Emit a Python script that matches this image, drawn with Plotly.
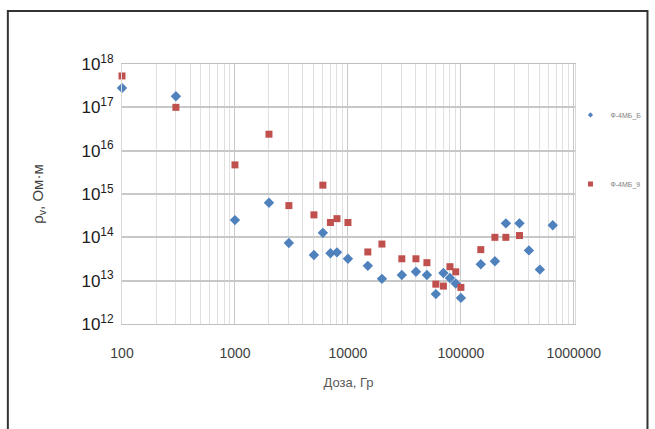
import plotly.graph_objects as go

# Data
dose_b = [100, 300, 1000, 2000, 3000, 5000, 6000, 7000, 8000, 10000, 15000, 20000,
          30000, 40000, 50000, 60000, 70000, 80000, 90000, 100000, 150000, 200000,
          250000, 330000, 400000, 500000, 650000]
rho_b = [2.8e17, 1.8e17, 2.5e14, 6.3e14, 7.4e13, 3.9e13, 1.27e14, 4.3e13, 4.5e13, 3.2e13,
         2.2e13, 1.1e13, 1.35e13, 1.6e13, 1.35e13, 4.9e12, 1.5e13, 1.15e13, 8.6e12, 4.0e12,
         2.4e13, 2.8e13, 2.1e14, 2.1e14, 5.0e13, 1.8e13, 1.9e14]

dose_r = [100, 300, 1000, 2000, 3000, 5000, 6000, 7000, 8000, 10000, 15000, 20000,
          30000, 40000, 50000, 60000, 70000, 80000, 90000, 100000, 150000, 200000,
          250000, 330000]
rho_r = [5.3e17, 1.0e17, 4.7e15, 2.4e16, 5.4e14, 3.3e14, 1.6e15, 2.2e14, 2.7e14, 2.2e14,
         4.6e13, 7.0e13, 3.2e13, 3.2e13, 2.6e13, 8.3e12, 7.5e12, 2.1e13, 1.6e13, 7.0e12,
         5.2e13, 1.0e14, 1.0e14, 1.1e14]

names = ["Ф-4МБ_Б", "Ф-4МБ_9"]
x_ticks = [100, 1000, 10000, 100000, 1000000]
x_ticktext = ["100", "1000", "10000", "100000", "1000000"]
y_exps = [12, 13, 14, 15, 16, 17, 18]

x_minor = [m * 10 ** e for e in range(2, 6) for m in range(2, 10)]
y_ticks = [10.0 ** e for e in y_exps]
y_ticktext = ["10<sup>%d</sup>" % e for e in y_exps]

colors = ["#4f81bd", "#c0504d"]
symbols = ["diamond", "square"]

fig = go.Figure()
fig.add_trace(go.Scatter(
    x=dose_b, y=rho_b, mode="markers", showlegend=False, cliponaxis=False,
    marker=dict(symbol=symbols[0], size=8, color=colors[0]),
))
fig.add_trace(go.Scatter(
    x=dose_r, y=rho_r, mode="markers", showlegend=False, cliponaxis=False,
    marker=dict(symbol=symbols[1], size=7, color=colors[1]),
))
# legend entries (small symbols as in the reference)
for i in range(2):
    fig.add_trace(go.Scatter(
        x=[None], y=[None], mode="markers", name=names[i], legendgroup=str(i),
        marker=dict(symbol=symbols[i], size=4 if i == 0 else 5, color=colors[i]),
    ))

fig.update_layout(
    width=655, height=429,
    margin=dict(l=122, r=80, t=64, b=105, autoexpand=False),
    paper_bgcolor="white", plot_bgcolor="white",
    font=dict(family="Liberation Sans, Arial, sans-serif", color="#404040"),
    legend=dict(x=0.99, y=0.86, xanchor="left", yanchor="top",
                font=dict(size=7, color="#808080"), tracegroupgap=50,
                itemsizing="trace", itemwidth=30, bgcolor="rgba(0,0,0,0)"),
    showlegend=True,
)
fig.update_xaxes(
    type="log", range=[2, 6.01],
    tickvals=x_ticks, ticktext=x_ticktext,
    tickfont=dict(size=14, color="#404040"),
    ticks="outside", ticklen=16, tickcolor="rgba(0,0,0,0)",
    showgrid=True, gridcolor="#c8c8c8", gridwidth=1,
    minor=dict(tickvals=x_minor, showgrid=True, gridcolor="#e0e0e0", gridwidth=1, ticks=""),
    showline=True, linecolor="#bfbfbf", mirror=True,
    zeroline=False,
    title=dict(text="Доза, Гр", font=dict(size=13, color="#595959"), standoff=18),
)
fig.update_yaxes(
    type="log", range=[12, 18],
    tickvals=y_ticks, ticktext=y_ticktext,
    tickfont=dict(size=17, color="#202020"),
    showgrid=True, gridcolor="#c8c8c8", gridwidth=1.5,
    showline=True, linecolor="#d9d9d9", mirror=True,
    zeroline=False, ticks="outside", ticklen=4, tickcolor="rgba(0,0,0,0)",
    title=dict(text="ρ<sub>v</sub>, Ом·м", font=dict(size=15, color="#404040"), standoff=34),
)
fig.add_shape(type="rect", xref="paper", yref="paper",
              x0=-0.252, x1=1.16, y0=-0.45, y1=1.204,
              line=dict(color="#333333", width=2), fillcolor="rgba(0,0,0,0)")

fig.write_html("out.html")
